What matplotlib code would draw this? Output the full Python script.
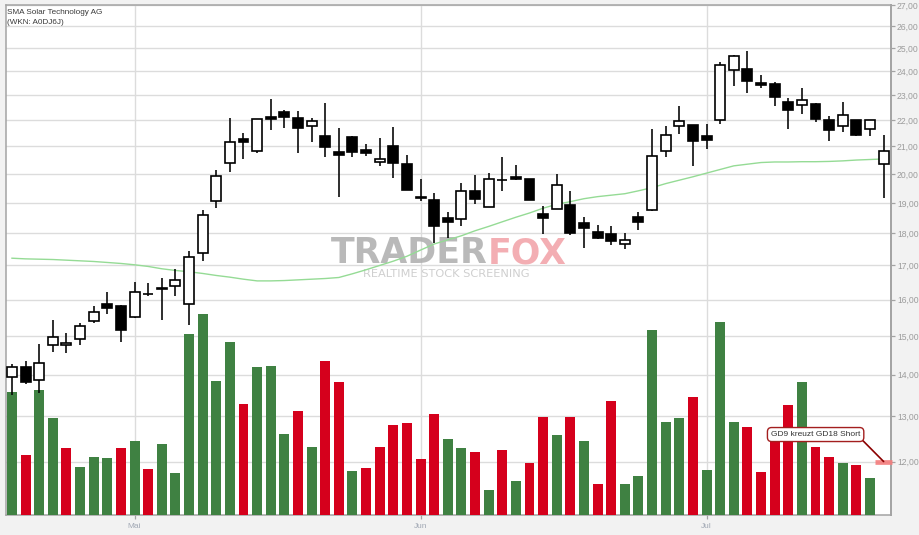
import matplotlib
matplotlib.use("Agg")
import matplotlib.pyplot as plt
import numpy as np
from matplotlib.ticker import NullLocator, NullFormatter

# ---------------- data ----------------
TITLE = "SMA Solar Technology AG"
SUBTITLE = "(WKN: A0DJ6J)"

OPEN = [13.94, 14.19, 13.88, 14.76, 14.76, 14.91, 15.40, 15.88, 15.82, 15.51,
        16.15, 16.34, 16.38, 15.87, 17.37, 19.05, 20.39, 21.27, 20.83, 22.13,
        22.32, 22.08, 21.77, 21.39, 20.80, 21.35, 20.86, 20.43, 21.01, 20.36,
        19.20, 19.10, 18.48, 18.46, 19.41, 18.87, 19.77, 19.90, 19.82, 18.63,
        18.79, 18.92, 18.33, 18.03, 17.97, 17.66, 18.52, 18.75, 20.83, 21.77,
        21.81, 21.40, 22.00, 24.07, 24.09, 23.51, 23.47, 22.73, 22.60, 22.65,
        22.00, 21.77, 22.00, 21.66, 20.35]
HIGH = [14.28, 14.35, 14.79, 15.43, 15.08, 15.36, 15.82, 16.22, 15.85, 16.50,
        16.49, 16.63, 16.90, 17.45, 18.76, 20.15, 22.09, 21.52, 22.06, 22.85,
        22.41, 22.37, 22.09, 22.69, 21.69, 21.39, 21.10, 21.31, 21.74, 20.69,
        19.82, 19.33, 18.69, 19.68, 19.97, 20.04, 20.62, 20.33, 19.83, 18.90,
        20.00, 19.41, 18.53, 18.27, 18.23, 18.00, 18.69, 21.67, 21.78, 22.57,
        21.82, 21.86, 24.40, 24.69, 24.88, 23.85, 23.55, 22.88, 23.29, 22.69,
        22.16, 22.73, 22.01, 22.01, 21.44]
LOW = [13.50, 13.76, 13.56, 14.59, 14.54, 14.77, 15.36, 15.60, 14.83, 15.48,
       16.09, 15.42, 16.11, 15.30, 17.15, 18.84, 20.08, 20.55, 20.74, 21.64,
       21.72, 20.74, 21.15, 20.62, 19.21, 20.62, 20.63, 20.27, 19.87, 19.43,
       19.07, 17.68, 17.84, 18.22, 18.97, 18.85, 19.39, 19.80, 19.10, 17.99,
       18.78, 17.96, 17.55, 17.83, 17.63, 17.49, 18.12, 18.71, 20.60, 21.47,
       20.30, 20.91, 21.87, 23.40, 23.11, 23.28, 22.58, 21.68, 22.26, 21.94,
       21.22, 21.53, 21.41, 21.38, 19.18]
CLOSE = [14.19, 13.81, 14.30, 14.96, 14.82, 15.26, 15.65, 15.75, 15.17, 16.21,
         16.17, 16.29, 16.57, 17.25, 18.59, 19.92, 21.16, 21.15, 22.04, 22.05,
         22.14, 21.72, 21.96, 20.99, 20.67, 20.81, 20.74, 20.53, 20.38, 19.45,
         19.18, 18.22, 18.35, 19.40, 19.14, 19.82, 19.79, 19.81, 19.11, 18.48,
         19.61, 18.02, 18.16, 17.86, 17.74, 17.78, 18.35, 20.64, 21.43, 21.96,
         21.22, 21.23, 24.26, 24.67, 23.61, 23.42, 22.94, 22.42, 22.80, 22.06,
         21.64, 22.20, 21.45, 22.00, 20.83]

# moving average (green line)
SMA = [17.22, 17.20, 17.19, 17.18, 17.16, 17.14, 17.12, 17.09, 17.06, 17.02,
       16.97, 16.90, 16.85, 16.81, 16.76, 16.70, 16.65, 16.59, 16.54, 16.54,
       16.55, 16.57, 16.59, 16.61, 16.64, 16.75, 16.87, 17.00, 17.13, 17.28,
       17.47, 17.66, 17.79, 17.92, 18.08, 18.22, 18.37, 18.52, 18.66, 18.82,
       18.95, 19.04, 19.14, 19.21, 19.26, 19.31, 19.41, 19.52, 19.66, 19.78,
       19.90, 20.03, 20.16, 20.29, 20.35, 20.41, 20.43, 20.43, 20.44, 20.44,
       20.45, 20.47, 20.50, 20.52, 20.54]

# volume (thousand shares) and direction (U = up day, D = down day)
VOLUME = [123, 60, 125, 97, 67, 48, 58, 57, 67, 74,
          46, 71, 42, 181, 201, 134, 173, 111, 148, 149,
          81, 104, 68, 154, 133, 44, 47, 68, 90, 92,
          56, 101, 76, 67, 63, 25, 65, 34, 52, 98,
          80, 98, 74, 31, 114, 31, 39, 185, 93, 97,
          118, 45, 193, 93, 88, 43, 80, 110, 133, 68,
          58, 52, 50, 37]
VOLUME_DIR = list("UDUUDUUUDU" "DUUUUUUDUU" "UDUDDUDDDD"
                  "DDUUDUDUDD" "UDUDDUUUUU" "DUUUDDDDUD" "DUDU")

PRICE_TICKS = [12, 13, 14, 15, 16, 17, 18, 19, 20, 21, 22, 23, 24, 25, 26, 27]
PRICE_TICK_LABELS = ["12,00", "13,00", "14,00", "15,00", "16,00", "17,00",
                     "18,00", "19,00", "20,00", "21,00", "22,00", "23,00",
                     "24,00", "25,00", "26,00", "27,00"]
MONTH_TICK_INDEX = [9, 30, 51]
MONTH_LABELS = ["Mai", "Jun", "Jul"]

SIGNAL_TEXT = "GD9 kreuzt GD18 Short"
SIGNAL_LEVEL = 12.0

# ---------------- styling ----------------
GREEN = "#3f8142"
RED = "#d5001c"
GRID = "#dcdcdc"
SPINE = "#a3a3a3"
TICKTXT = "#9c9c9c"

W, H = 920, 535
fig = plt.figure(figsize=(W / 100, H / 100), dpi=100, facecolor="#f2f2f2")
left_px, right_px, top_px, bot_px = 5.7, 890.7, 5.0, 515.3
rect = [left_px / W, (H - bot_px) / H, (right_px - left_px) / W, (bot_px - top_px) / H]

ax_p = fig.add_axes(rect)
ax_p.set_facecolor("white")
ax_p.set_yscale("log")
ax_p.set_ylim(10.907, 27.0)
ax_p.set_xlim(-0.46, 64.52)

ax_v = fig.add_axes(rect, sharex=ax_p)
ax_v.set_facecolor("none")
ax_v.axis("off")

ax_c = fig.add_axes(rect, sharex=ax_p, sharey=ax_p)
ax_c.set_facecolor("none")
ax_c.axis("off")

# axis ticks / grid on base axes
ax_p.yaxis.tick_right()
ax_p.set_yticks(PRICE_TICKS)
ax_p.set_yticklabels(PRICE_TICK_LABELS)
ax_p.yaxis.set_minor_locator(NullLocator())
ax_p.yaxis.set_minor_formatter(NullFormatter())
ax_p.set_xticks(MONTH_TICK_INDEX)
ax_p.set_xticklabels(MONTH_LABELS)
for lab in ax_p.get_yticklabels():
    lab.set_family("Liberation Sans")
for lab in ax_p.get_xticklabels():
    lab.set_family("Liberation Sans")
ax_p.tick_params(axis="y", direction="out", length=3, width=0.9, color=SPINE,
                 pad=1.5, labelsize=6.2, labelcolor=TICKTXT)
ax_p.tick_params(axis="x", direction="out", length=3, width=0.9, color=SPINE,
                 pad=2.5, labelsize=6.0, labelcolor="#a2a9b5")
ax_p.grid(True, which="major", color=GRID, linewidth=1.0)
ax_p.set_axisbelow(True)
for s in ax_p.spines.values():
    s.set_color(SPINE)
    s.set_linewidth(1.1)
ax_p.spines["right"].set_linewidth(1.4)

# watermark
ax_p.text(0.5450, 0.4944, "TRADER", transform=ax_p.transAxes, ha="right",
          va="baseline", fontsize=25, fontweight="bold", color="#adadad",
          alpha=0.85, family="DejaVu Sans", zorder=1)
ax_p.text(0.5450, 0.4944, "FOX", transform=ax_p.transAxes, ha="left",
          va="baseline", fontsize=25, fontweight="bold", color="#f2a0a6",
          alpha=0.85, family="DejaVu Sans", zorder=1)
ax_p.text(0.4981, 0.4738, "REALTIME STOCK SCREENING", transform=ax_p.transAxes,
          ha="center", va="center", fontsize=8.2, color="#cfcfcf",
          family="DejaVu Sans", zorder=1)

# volume bars
vx = np.arange(len(VOLUME))
vcol = [GREEN if d == "U" else RED for d in VOLUME_DIR]
ax_v.bar(vx, VOLUME, width=0.73, color=vcol, linewidth=0)
ax_v.set_ylim(0, bot_px - top_px)

# candles
x = np.arange(len(CLOSE))
o = np.array(OPEN)
c = np.array(CLOSE)
hi = np.array(HIGH)
lo = np.array(LOW)
ax_c.plot(x, SMA, color="#95db95", linewidth=1.0, zorder=1)
ax_c.vlines(x, lo, hi, color="black", linewidth=1.15, zorder=2)
body_bottom = np.minimum(o, c)
body_height = np.maximum(np.abs(c - o), 0.01)
body_face = ["white" if cc >= oo else "black" for oo, cc in zip(o, c)]
ax_c.bar(x, body_height, bottom=body_bottom, width=0.73, color=body_face,
         edgecolor="black", linewidth=1.2, zorder=3)

# signal marker + annotation
last = len(CLOSE) - 1
ax_c.plot([last - 0.62, last + 0.58], [SIGNAL_LEVEL, SIGNAL_LEVEL],
          color="#f47c7c", linewidth=3.4, alpha=0.9, solid_capstyle="butt",
          clip_on=False, zorder=4)
ax_c.annotate(SIGNAL_TEXT, xy=(last, SIGNAL_LEVEL), xytext=(-68, 27),
              textcoords="offset pixels", ha="center", va="center",
              fontsize=6.0, color="#333333", family="Liberation Sans",
              bbox=dict(boxstyle="round,pad=0.42,rounding_size=0.5", fc="white",
                        ec="#a31f1f", lw=1.0),
              arrowprops=dict(arrowstyle="-", color="#8b0000", lw=1.2,
                              relpos=(1, 0), shrinkA=0, shrinkB=0),
              zorder=5)

ax_p.set_xlim(-0.46, 64.52)
ax_p.set_ylim(10.907, 27.0)

# titles
fig.text(7.3 / W, 1 - 12.8 / H, TITLE, fontsize=5.9, family="Liberation Sans",
         color="#3a3a3a", va="center", ha="left")
fig.text(7.3 / W, 1 - 22.0 / H, SUBTITLE, fontsize=5.9, family="Liberation Sans",
         color="#3a3a3a", va="center", ha="left")

fig.savefig("out.png", dpi=100, facecolor=fig.get_facecolor())
